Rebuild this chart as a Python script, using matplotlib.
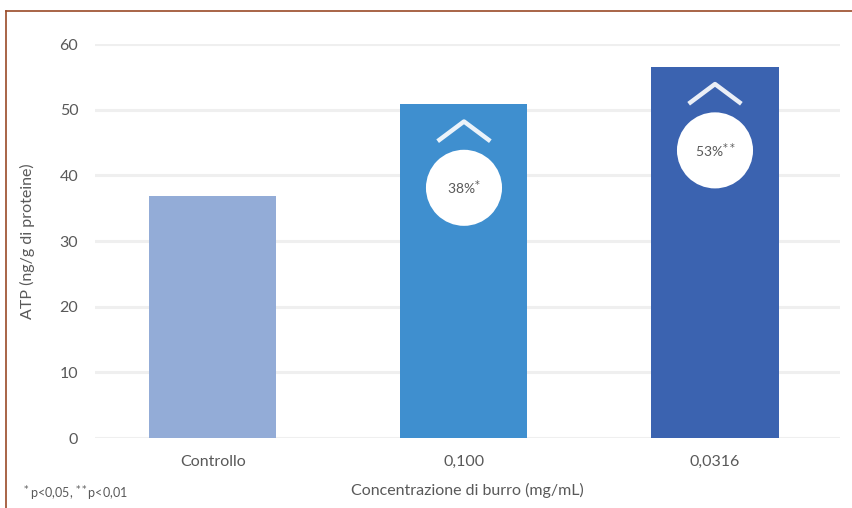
import matplotlib
matplotlib.use("Agg")
import matplotlib.pyplot as plt
from matplotlib.lines import Line2D

categories = ["Controllo", "0,100", "0,0316"]
values = [36.8, 50.8, 56.5]
colors = ["#93acd7", "#3f8fcf", "#3b63b0"]
badges = [None, "38%*", "53%**"]
yticks = [0, 10, 20, 30, 40, 50, 60]

plt.rcParams['font.family'] = ['Lato', 'DejaVu Sans']
txt = "#595959"

fig = plt.figure(figsize=(8.52, 5.08), dpi=100)
ax = fig.add_axes([95/852, 1-438/508, 745/852, 394/508])
x = list(range(len(categories)))
ax.bar(x, values, width=0.506, color=colors, zorder=3)
ax.set_xlim(-0.470, 2.498)
ax.set_ylim(0, 60)
ax.set_yticks(yticks)
ax.set_yticklabels([str(v) for v in yticks], color=txt, fontsize=11.5)
ax.set_xticks(x)
ax.set_xticklabels(categories, color=txt, fontsize=11.5)
ax.tick_params(axis='both', length=0)
ax.tick_params(axis='y', pad=12)
ax.tick_params(axis='x', pad=12)
for s in ax.spines.values():
    s.set_visible(False)
ax.grid(axis='y', color="#efefef", lw=2.2, zorder=0)
ax.set_axisbelow(True)
ax.set_ylabel("ATP (ng/g di proteine)", color=txt, fontsize=11.5, labelpad=18)
ax.set_xlabel("Concentrazione di burro (mg/mL)", color=txt, fontsize=11.5, labelpad=10)

for xi, v, b in zip(x, values, badges):
    if b is None:
        continue
    ax.scatter([xi], [v - 12.7], s=3000, color="white", zorder=5, edgecolors="none")
    ax.plot([xi - 0.105, xi, xi + 0.105], [v - 5.6, v - 2.6, v - 5.6],
            color="white", lw=3.2, alpha=0.9, zorder=5, solid_capstyle='butt')
    main, stars = b.split("%")
    ax.text(xi, v - 12.7, main + "%$^{" + stars + "}$", ha="center", va="center",
            fontsize=10, color=txt, zorder=6)

fig.text(22/852, 1-494/508, "$^*$p<0,05, $^{**}$p<0,01", fontsize=9, color=txt,
         ha="left", va="center")

border = "#9a4a28"
fig.add_artist(Line2D([6/852, 1], [1-11/508, 1-11/508], color=border, lw=1.2))
fig.add_artist(Line2D([6/852, 6/852], [0, 1-11/508], color=border, lw=1.2))

fig.savefig("out.png", dpi=100, facecolor="white")
